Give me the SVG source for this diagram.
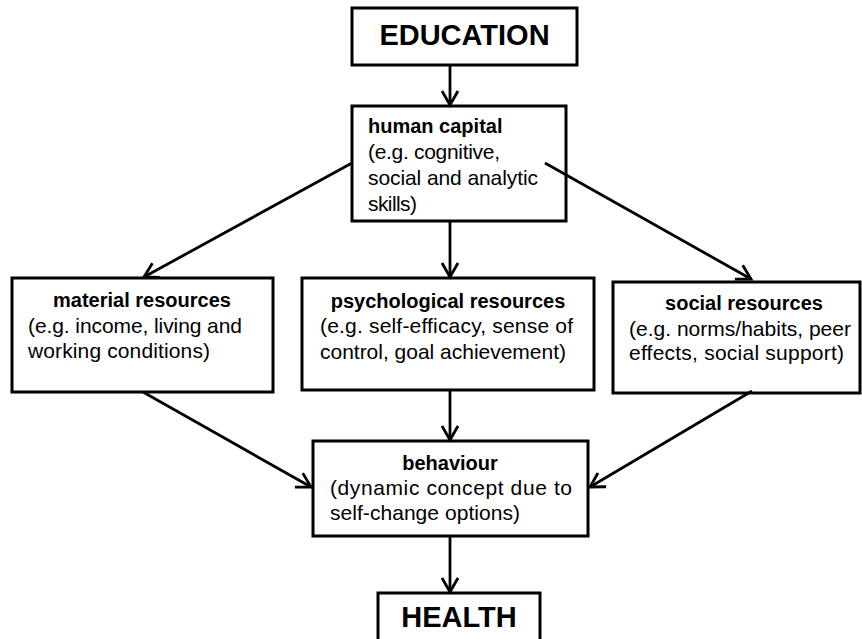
<svg xmlns="http://www.w3.org/2000/svg" width="862" height="639" viewBox="0 0 862 639">
<style>
.box{fill:#fff;stroke:#000;stroke-width:3}
.t{font-family:"Liberation Sans",Arial,sans-serif;font-size:21px;fill:#000}
.b{font-weight:bold;font-size:20px}
.big{font-family:"Liberation Sans",Arial,sans-serif;font-size:29px;font-weight:bold;fill:#000}
.c{stroke:#000;stroke-width:2.8;fill:none}
</style>
<defs>
<marker id="arr" markerUnits="userSpaceOnUse" markerWidth="20" markerHeight="20" refX="0" refY="0" viewBox="-16 -10 20 20" orient="auto" overflow="visible">
<path d="M -14 -8 L 0 0 L -14 8" fill="none" stroke="#000" stroke-width="2.8"/>
</marker>
</defs>
<rect width="862" height="639" fill="#fff"/>
<g id="education">
<rect class="box" x="352" y="8" width="225" height="57"/>
<text class="big" x="464.5" y="45" text-anchor="middle">EDUCATION</text>
</g>
<g id="human-capital">
<rect class="box" x="352" y="106" width="214" height="115"/>
<text class="t b" x="368" y="133">human capital</text>
<text class="t" x="368" y="159" textLength="132" lengthAdjust="spacing">(e.g. cognitive,</text>
<text class="t" x="368" y="185" textLength="170" lengthAdjust="spacing">social and analytic</text>
<text class="t" x="368" y="211" textLength="49" lengthAdjust="spacing">skills)</text>
</g>
<g id="material">
<rect class="box" x="12" y="278" width="261" height="114"/>
<text class="t b" x="142" y="307" text-anchor="middle">material resources</text>
<text class="t" x="28" y="333" textLength="214" lengthAdjust="spacing">(e.g. income, living and</text>
<text class="t" x="28" y="358" textLength="182" lengthAdjust="spacing">working conditions)</text>
</g>
<g id="psychological">
<rect class="box" x="302" y="278" width="292" height="112"/>
<text class="t b" x="448" y="308" text-anchor="middle">psychological resources</text>
<text class="t" x="320" y="333" textLength="253" lengthAdjust="spacing">(e.g. self-efficacy, sense of</text>
<text class="t" x="320" y="359" textLength="246" lengthAdjust="spacing">control, goal achievement)</text>
</g>
<g id="social">
<rect class="box" x="613" y="282" width="247" height="111"/>
<text class="t b" x="744" y="310" text-anchor="middle">social resources</text>
<text class="t" x="629" y="336" textLength="222" lengthAdjust="spacing">(e.g. norms/habits, peer</text>
<text class="t" x="629" y="360" textLength="215" lengthAdjust="spacing">effects, social support)</text>
</g>
<g id="behaviour">
<rect class="box" x="313" y="441" width="275" height="95"/>
<text class="t b" x="450" y="470" text-anchor="middle">behaviour</text>
<text class="t" x="330" y="495" textLength="242" lengthAdjust="spacing">(dynamic concept due to</text>
<text class="t" x="330" y="520" textLength="190" lengthAdjust="spacing">self-change options)</text>
</g>
<g id="health">
<rect class="box" x="378" y="593" width="162" height="60"/>
<text class="big" x="459" y="627" text-anchor="middle">HEALTH</text>
</g>
<g id="connectors">
<line class="c" x1="450" y1="65" x2="450" y2="105" marker-end="url(#arr)"/>
<line class="c" x1="352" y1="163" x2="144" y2="277" marker-end="url(#arr)"/>
<line class="c" x1="450" y1="221" x2="450" y2="277" marker-end="url(#arr)"/>
<line class="c" x1="545" y1="163" x2="751" y2="279" marker-end="url(#arr)"/>
<line class="c" x1="143" y1="392" x2="311" y2="487" marker-end="url(#arr)"/>
<line class="c" x1="450" y1="390" x2="450" y2="440" marker-end="url(#arr)"/>
<line class="c" x1="752" y1="391" x2="590" y2="487" marker-end="url(#arr)"/>
<line class="c" x1="450" y1="536" x2="450" y2="592" marker-end="url(#arr)"/>
</g>
</svg>
